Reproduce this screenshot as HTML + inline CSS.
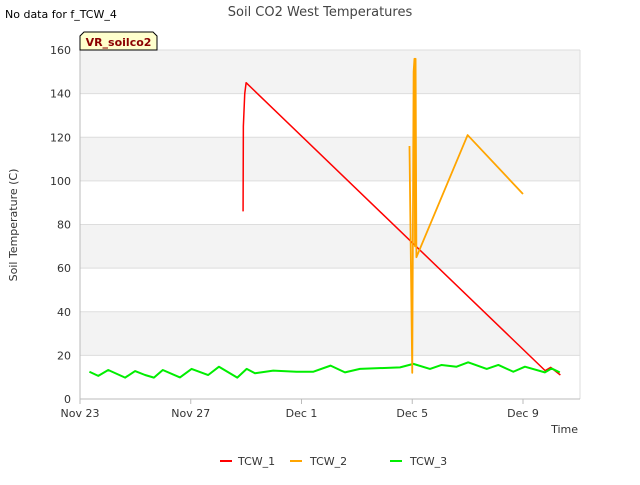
<!DOCTYPE html>
<html><head><meta charset="utf-8"><style>
body{margin:0;background:#fff;font-family:"Liberation Sans","DejaVu Sans",sans-serif}
svg text{font-family:"DejaVu Sans","Liberation Sans",sans-serif}
</style></head><body>
<svg id="c" width="640" height="480" xmlns="http://www.w3.org/2000/svg">
<text x="5" y="18" font-size="11" fill="#000">No data for f_TCW_4</text>
<text x="320" y="16" font-size="13" fill="#444" text-anchor="middle">Soil CO2 West Temperatures</text>
<g id="plot"></g>
<text x="17" y="225" font-size="11" fill="#333" text-anchor="middle" transform="rotate(-90 17 225)">Soil Temperature (C)</text>
<text x="578" y="433" font-size="11" fill="#333" text-anchor="end">Time</text>
<g id="lbl">
<path d="M80,50 L80,36 L84,32 L153,32 L157,36 L157,50 Z" fill="#ffffcc" stroke="#000" stroke-width="1"/>
<text x="118.5" y="46" font-size="11" font-weight="bold" fill="#8b0000" text-anchor="middle">VR_soilco2</text>
</g>
<g>
<g><line x1="220" y1="461" x2="232" y2="461" stroke="#ff0000" stroke-width="2"/><text x="238" y="465" font-size="11" fill="#333">TCW_1</text></g>
<g><line x1="290" y1="461" x2="302" y2="461" stroke="#ffa500" stroke-width="2"/><text x="310" y="465" font-size="11" fill="#333">TCW_2</text></g>
<g><line x1="390" y1="461" x2="402" y2="461" stroke="#00ee00" stroke-width="2"/><text x="410" y="465" font-size="11" fill="#333">TCW_3</text></g>
</g>
</svg>
<script>
const yTicks=[0,20,40,60,80,100,120,140,160];
const xTickDays=[0,4,8,12,16];
const xTickLabels=["Nov 23","Nov 27","Dec 1","Dec 5","Dec 9"];
const tcw1Days=[5.89,5.9,5.95,6.0,16.8,17.0,17.35];
const tcw1Vals=[86,125,140,145,13,14.5,11];
const tcw2Days=[11.9,12.0,12.05,12.08,12.1,12.12,12.15,14.0,16.0];
const tcw2Vals=[116,12,150,156,70,156,65,121,94];
const tcw3Days=[0.34,0.66,1.02,1.63,1.99,2.35,2.67,2.99,3.61,4.03,4.63,5.02,5.68,6.02,6.32,6.98,7.82,8.43,9.05,9.57,10.11,11.56,12.04,12.64,13.06,13.6,14.02,14.69,15.11,15.65,16.07,16.79,17.03,17.33];
const tcw3Vals=[12.5,10.6,13.3,9.8,12.8,11.0,9.8,13.3,9.9,13.8,11.0,14.8,9.8,13.8,11.8,13.0,12.5,12.5,15.3,12.2,13.8,14.5,16.1,13.8,15.6,14.8,16.8,13.8,15.6,12.5,14.8,12.2,14.0,12.2];
const L=80,R=580,T=50,B=399;
const x=d=>L+d*(523-80)/16;
const y=v=>B-v*(B-T)/160;
const NS="http://www.w3.org/2000/svg";
const g=document.getElementById('plot');
function mk(t,a){const e=document.createElementNS(NS,t);for(const k in a)e.setAttribute(k,a[k]);g.appendChild(e);return e;}
for(let i=0;i<yTicks.length-1;i++){
 if(i%2===1){const r=mk('rect',{x:L,y:y(yTicks[i+1]),width:R-L,height:y(yTicks[i])-y(yTicks[i+1]),fill:'#f3f3f3'});
 
 }
}
yTicks.forEach(v=>{
 const l=mk('line',{x1:L,x2:R,y1:y(v),y2:y(v),stroke:'#dddddd','stroke-width':1});
 
 
 const t=mk('text',{x:L-9,y:y(v)+4,'font-size':11,fill:'#333','text-anchor':'end'});t.textContent=v;
 
 
});
mk('line',{x1:R,x2:R,y1:T,y2:B,stroke:'#dddddd'});
mk('line',{x1:L,x2:L,y1:T,y2:B,stroke:'#bbbbbb'});
mk('line',{x1:L,x2:R,y1:B,y2:B,stroke:'#bbbbbb'});
xTickDays.forEach((d,i)=>{
 mk('line',{x1:x(d),x2:x(d),y1:B,y2:B+5,stroke:'#bbbbbb'});
 const t=mk('text',{x:x(d),y:B+18,'font-size':11,fill:'#333','text-anchor':'middle'});t.textContent=xTickLabels[i];
 
 
});
function series(ds,vs,col,name,w){
 const p=mk('polyline',{points:ds.map((d,i)=>x(d)+','+y(vs[i])).join(' '),fill:'none',stroke:col,'stroke-width':w,'stroke-linejoin':'round'});
 
 
}
series(tcw1Days,tcw1Vals,'#ff0000','series-tcw1',1.5);
series(tcw3Days,tcw3Vals,'#00ee00','series-tcw3',2);
series(tcw2Days,tcw2Vals,'#ffa500','series-tcw2',1.8);
document.getElementById('c').appendChild(document.getElementById('lbl'));
</script>
</body></html>
